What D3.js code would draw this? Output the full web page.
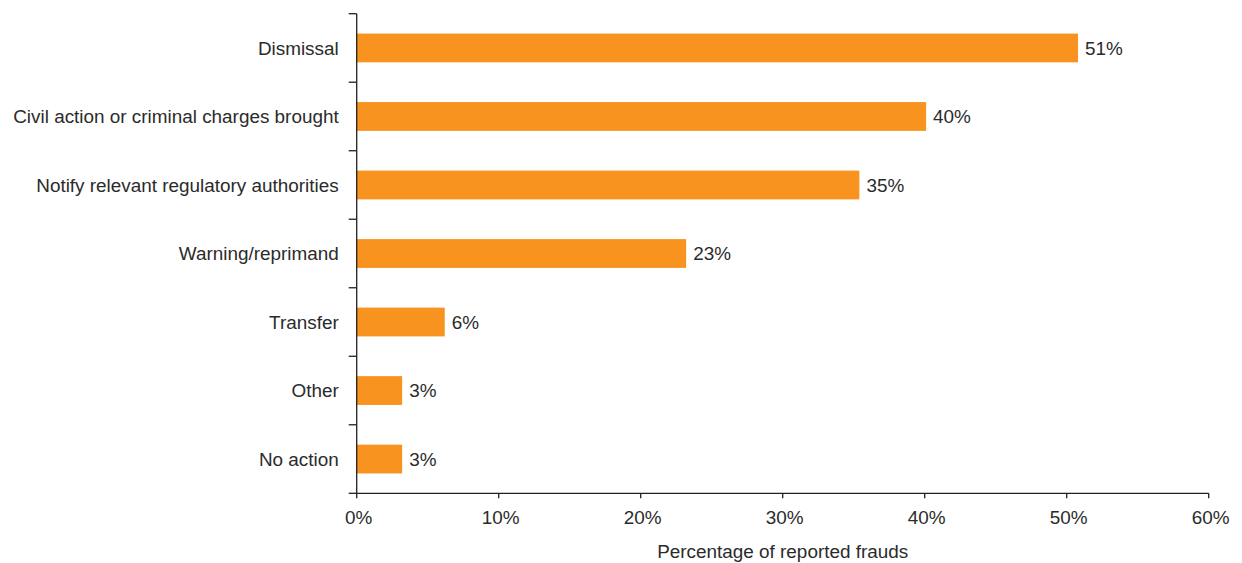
<!DOCTYPE html>
<html><head><meta charset="utf-8">
<script src="https://cdn.jsdelivr.net/npm/d3@7"></script>
<style>body{margin:0;background:#fff}svg{display:block}text{font-family:"Liberation Sans",Arial,sans-serif;fill:#2b2b2b}</style>
</head><body>
<svg id="c" width="1242" height="563"></svg>
<script>
const categories = ["Dismissal","Civil action or criminal charges brought","Notify relevant regulatory authorities","Warning/reprimand","Transfer","Other","No action"];
const values = [50.8, 40.1, 35.4, 23.2, 6.2, 3.2, 3.2];
const valueLabels = ["51%","40%","35%","23%","6%","3%","3%"];
const xTicks = [0,10,20,30,40,50,60];
const xTitle = "Percentage of reported frauds";

const svg = d3.select("#c");
const L = 356.7, R = 1208.7, T = 13.7, B = 493.3;
const FS = 18.9;
const x = d3.scaleLinear().domain([0,60]).range([L,R]);
const y = d3.scaleBand().domain(categories).range([T,B]).paddingInner(0.58).paddingOuter(0.29);
const axisColor = "#231f20";

svg.append("g").selectAll("rect").data(categories).join("rect")
  .attr("x", x(0)).attr("y", d=>y(d))
  .attr("width", (d,i)=>x(values[i])-x(0)).attr("height", y.bandwidth())
  .attr("fill","#f7931e");

svg.append("g").selectAll("text").data(categories).join("text")
  .attr("x",(d,i)=>x(values[i])+7).attr("y",d=>y(d)+y.bandwidth()/2)
  .attr("dy","0.36em").attr("font-size",FS).text((d,i)=>valueLabels[i]);

// left axis
const ly = svg.append("g");
ly.append("line").attr("x1",L).attr("x2",L).attr("y1",T).attr("y2",B).attr("stroke",axisColor).attr("stroke-width",1.3);
const bounds = d3.range(categories.length+1).map(i=>T+i*(B-T)/categories.length);
ly.selectAll("line.t").data(bounds).join("line").attr("class","t")
  .attr("x1",L-8).attr("x2",L).attr("y1",d=>d).attr("y2",d=>d).attr("stroke",axisColor).attr("stroke-width",1.3);
ly.selectAll("text").data(categories).join("text")
  .attr("x",L-18).attr("y",d=>y(d)+y.bandwidth()/2).attr("dy","0.36em")
  .attr("text-anchor","end").attr("font-size",FS).text(d=>d);

// bottom axis
const bx = svg.append("g");
bx.append("line").attr("x1",L).attr("x2",R).attr("y1",B).attr("y2",B).attr("stroke",axisColor).attr("stroke-width",1.3);
bx.selectAll("line.t").data(xTicks).join("line").attr("class","t")
  .attr("x1",d=>x(d)).attr("x2",d=>x(d)).attr("y1",B).attr("y2",B+5).attr("stroke",axisColor).attr("stroke-width",1.3);
bx.selectAll("text").data(xTicks).join("text")
  .attr("x",d=>x(d)+2).attr("y",517).attr("dy","0.36em").attr("text-anchor","middle")
  .attr("font-size",FS).text(d=>d+"%");
svg.append("text").attr("x",(L+R)/2).attr("y",551).attr("dy","0.36em").attr("text-anchor","middle")
  .attr("font-size",FS).text(xTitle);
</script>
</body></html>
